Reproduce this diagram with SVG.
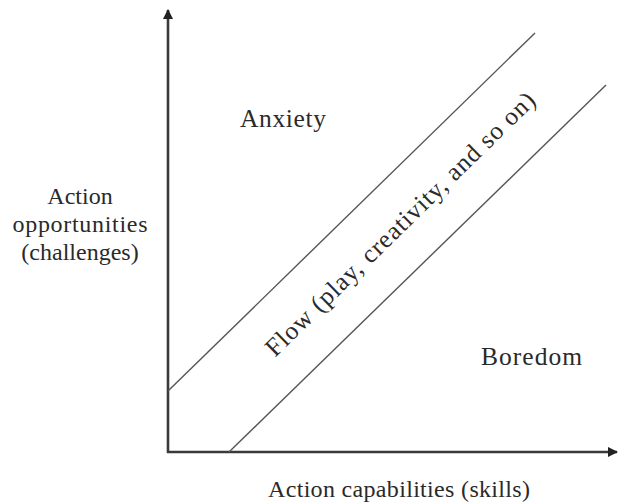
<svg xmlns="http://www.w3.org/2000/svg" width="619" height="502" viewBox="0 0 619 502">
<style>
.t{font-family:"Liberation Serif","DejaVu Serif",serif;font-size:24px;fill:#2a2a2a}
.b{font-size:25.5px}
.ax{stroke:#3a3a3a;stroke-width:2.6;fill:none}
.dg{stroke:#555;stroke-width:1.4;fill:none}
</style>
<defs>
<marker id="ah" viewBox="0 0 10 10" refX="9" refY="5" markerWidth="4" markerHeight="4" orient="auto" markerUnits="strokeWidth">
<path d="M0,0 L10,5 L0,10 z" fill="#222"/>
</marker>
</defs>
<rect width="619" height="502" fill="#fff"/>
<g id="connectors">
<line class="ax" x1="168" y1="453" x2="168" y2="10" marker-end="url(#ah)"/>
<line class="ax" x1="167" y1="452" x2="617" y2="452" marker-end="url(#ah)"/>
<line class="dg" x1="168" y1="391" x2="535" y2="33"/>
<line class="dg" x1="229" y1="452" x2="606" y2="85"/>
</g>
<g id="anxiety"><text class="t b" x="240" y="127" textLength="86">Anxiety</text></g>
<g id="boredom"><text class="t b" x="481" y="365" textLength="101">Boredom</text></g>
<g id="flow"><text class="t b" text-anchor="middle" transform="translate(406,230) rotate(-44.3)" textLength="366">Flow (play, creativity, and so on)</text></g>
<g id="y-label">
<text class="t" text-anchor="middle" x="80" y="204">Action</text>
<text class="t" text-anchor="middle" x="80" y="232" textLength="135">opportunities</text>
<text class="t" text-anchor="middle" x="80" y="260">(challenges)</text>
</g>
<g id="x-label"><text class="t" x="268" y="497" textLength="262">Action capabilities (skills)</text></g>
</svg>
